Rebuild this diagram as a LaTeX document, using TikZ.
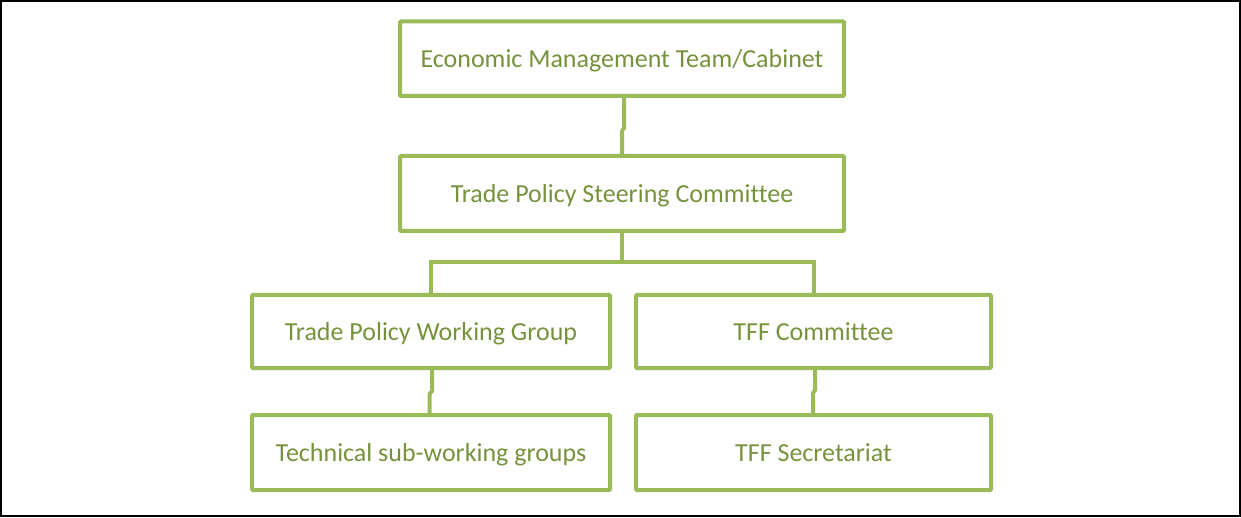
\documentclass[tikz,border=0pt]{standalone}
\usepackage{fontspec}
\setmainfont{Carlito}[Ligatures=NoCommon]
\definecolor{boxgreen}{HTML}{9BBB59}
\definecolor{txtgreen}{HTML}{76923C}
\begin{document}
\begin{tikzpicture}[x=1pt,y=-1pt,
  orgbox/.style={draw=boxgreen, line width=4pt, rectangle, rounded corners=1pt,
    text=txtgreen, font=\fontsize{26}{30}\selectfont, inner sep=0pt,
    text height=21pt, text depth=3pt},
  conn/.style={draw=boxgreen, line width=4pt}]
\useasboundingbox (0,0) rectangle (1241,518);
\draw[black, line width=2pt] (1,1) rectangle (1240,516);
\node[orgbox, minimum width=444pt, minimum height=74.5pt] (emt) at (622,58.75) {Economic Management Team/Cabinet};
\node[orgbox, minimum width=444pt, minimum height=75pt] (tps) at (622,193.5) {Trade Policy Steering Committee};
\node[orgbox, minimum width=358pt, minimum height=73pt] (tpwg) at (431,331.5) {Trade Policy Working Group};
\node[orgbox, minimum width=355pt, minimum height=73pt] (tffc) at (813.5,331.5) {TFF Committee};
\node[orgbox, minimum width=358pt, minimum height=75pt] (tech) at (431,452.5) {Technical sub-working groups};
\node[orgbox, minimum width=355pt, minimum height=75pt] (tffs) at (813.5,452.5) {TFF Secretariat};
% connectors
\draw[conn] ([xshift=2pt]emt.south) -- ++(0,30) -- ++(-2,3) -- (tps.north);
\coordinate (bus) at (622,262);
\draw[conn] (tps.south) -- (bus);
\draw[conn] (tps.south |- bus) -| (tpwg.north);
\draw[conn] (tps.south |- bus) -| (tffc.north);
\draw[conn] ([xshift=1pt]tpwg.south) -- ++(0,21) -- ++(-2.5,3) -- ([xshift=-1.5pt]tech.north);
\draw[conn] ([xshift=1.5pt]tffc.south) -- ++(0,20) -- ++(-2,3) -- ([xshift=-0.5pt]tffs.north);
\end{tikzpicture}
\end{document}
